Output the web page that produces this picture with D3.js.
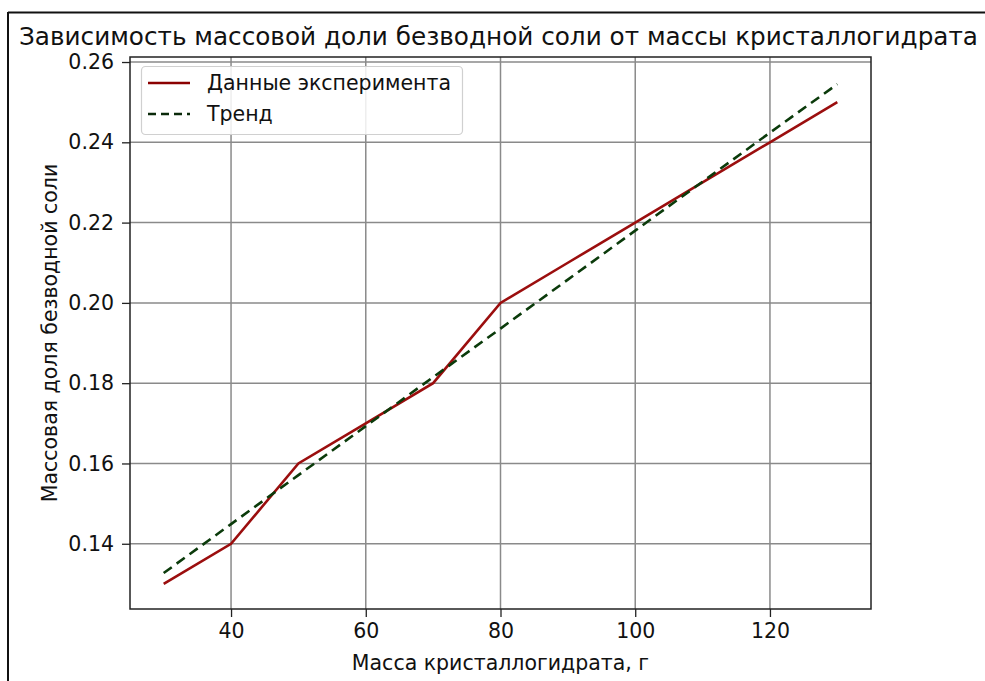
<!DOCTYPE html>
<html><head><meta charset="utf-8">
<script src="https://cdn.jsdelivr.net/npm/d3@7"></script>
<style>body{margin:0;background:#fff}svg{display:block;font-family:"DejaVu Sans",sans-serif}</style>
</head><body>
<svg id="c" width="985" height="681"></svg>
<script>
const masses = [30, 40, 50, 60, 70, 80, 90, 100, 110, 120, 130];
const fractions = [0.13, 0.14, 0.16, 0.17, 0.18, 0.20, 0.21, 0.22, 0.23, 0.24, 0.25];
const trendValues = [0.1327, 0.1449, 0.1571, 0.1693, 0.1815, 0.1936, 0.2058, 0.2180, 0.2302, 0.2424, 0.2545];
const xTicks = [40, 60, 80, 100, 120];
const yTicks = [0.14, 0.16, 0.18, 0.20, 0.22, 0.24, 0.26];
const title = "Зависимость массовой доли безводной соли от массы кристаллогидрата";
const xLabel = "Масса кристаллогидрата, г";
const yLabel = "Массовая доля безводной соли";
const legendLabels = ["Данные эксперимента", "Тренд"];

const svg = d3.select("#c");
const L = 130, R = 871, T = 57, B = 609;
const x = d3.scaleLinear().domain([25, 135]).range([L, R]);
const y = d3.scaleLinear().domain([0.12375, 0.26125]).range([B, T]);
const FS = 20.5;

// outer frame
svg.append("line").attr("x1",8).attr("x2",985).attr("y1",12.5).attr("y2",12.5).attr("stroke","#111").attr("stroke-width",2);
svg.append("line").attr("x1",8).attr("x2",8).attr("y1",12).attr("y2",681).attr("stroke","#111").attr("stroke-width",2);

// title
svg.append("text").attr("x",19).attr("y",45).attr("font-size",24).attr("fill","#111")
  .attr("textLength",959).attr("lengthAdjust","spacingAndGlyphs").text(title);

// grid
const g = svg.append("g");
g.selectAll(".gx").data(xTicks).join("line").attr("x1",d=>x(d)).attr("x2",d=>x(d)).attr("y1",T).attr("y2",B)
  .attr("stroke","#8a8a8a").attr("stroke-width",1.5);
g.selectAll(".gy").data(yTicks).join("line").attr("x1",L).attr("x2",R).attr("y1",d=>y(d)).attr("y2",d=>y(d))
  .attr("stroke","#8a8a8a").attr("stroke-width",1.5);

// axes
const xa = svg.append("g").attr("transform",`translate(0,${B})`)
  .call(d3.axisBottom(x).tickValues(xTicks).tickSize(8).tickPadding(6).tickFormat(d3.format("d")));
const ya = svg.append("g").attr("transform",`translate(${L},0)`)
  .call(d3.axisLeft(y).tickValues(yTicks).tickSize(8).tickPadding(8).tickFormat(d3.format(".2f")));
[xa,ya].forEach(a=>{
  a.select(".domain").remove();
  a.selectAll("line").attr("stroke","#222").attr("stroke-width",1.3);
  a.selectAll("text").attr("font-size",FS).attr("fill","#111").attr("font-family","DejaVu Sans");
});

// lines
const line = d3.line().x((d,i)=>x(masses[i])).y(d=>y(d));
svg.append("path").attr("d",line(fractions)).attr("fill","none").attr("stroke","#9b0e0e").attr("stroke-width",2.6);
svg.append("path").attr("d",line(trendValues)).attr("fill","none").attr("stroke","#0b3b0b").attr("stroke-width",2.6)
  .attr("stroke-dasharray","10,6");

// spines
svg.append("rect").attr("x",L).attr("y",T).attr("width",R-L).attr("height",B-T).attr("fill","none")
  .attr("stroke","#222").attr("stroke-width",1.5);

// labels
svg.append("text").attr("x",(L+R)/2).attr("y",670).attr("text-anchor","middle").attr("font-size",FS).attr("fill","#111").text(xLabel);
svg.append("text").attr("transform",`translate(57,${(T+B)/2}) rotate(-90)`).attr("text-anchor","middle").attr("font-size",FS).attr("fill","#111").text(yLabel);

// legend
const lg = svg.append("g");
lg.append("rect").attr("x",141.5).attr("y",66.5).attr("width",321).attr("height",68).attr("rx",4)
  .attr("fill","#fff").attr("fill-opacity",0.85).attr("stroke","#d0d0d0").attr("stroke-width",1.2);
const ly = [83, 114];
const styles = [{c:"#8b0000",d:null},{c:"#0a2a0a",d:"8,5"}];
legendLabels.forEach((t,i)=>{
  lg.append("line").attr("x1",148).attr("x2",190).attr("y1",ly[i]).attr("y2",ly[i]).attr("stroke",styles[i].c)
    .attr("stroke-width",2.6).attr("stroke-dasharray",styles[i].d);
  lg.append("text").attr("x",207).attr("y",ly[i]+7).attr("font-size",FS).attr("fill","#111").text(t);
});
</script>
</body></html>
